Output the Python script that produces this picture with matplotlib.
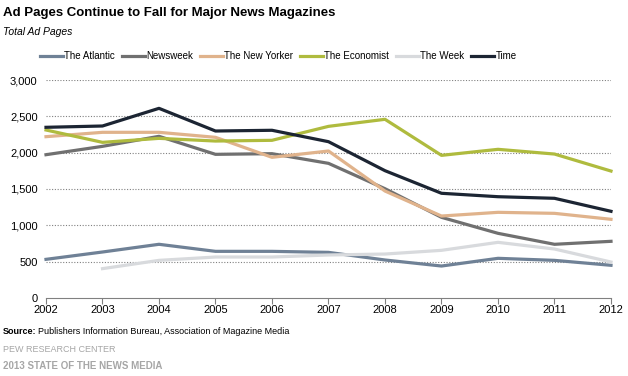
import matplotlib
matplotlib.use('Agg')
import matplotlib.pyplot as plt
from matplotlib.ticker import FuncFormatter

plt.rcParams['font.family'] = ['Liberation Sans', 'DejaVu Sans']

years = list(range(2002, 2013))
week_years = list(range(2003, 2013))

atlantic = [532, 633, 739, 642, 642, 628, 523, 440, 546, 518, 450]
newsweek = [1972, 2087, 2225, 1977, 1986, 1853, 1504, 1110, 890, 739, 780]
new_yorker = [2220, 2280, 2280, 2211, 1936, 2023, 1472, 1128, 1179, 1165, 1083]
economist = [2312, 2142, 2197, 2160, 2170, 2362, 2459, 1963, 2046, 1981, 1747]
the_week = [404, 518, 564, 564, 592, 605, 656, 766, 674, 495]
time_mag = [2349, 2367, 2610, 2298, 2308, 2151, 1752, 1441, 1394, 1372, 1193]

series = [
    ('The Atlantic', years, atlantic, '#6f8196'),
    ('Newsweek', years, newsweek, '#707070'),
    ('The New Yorker', years, new_yorker, '#e0b38c'),
    ('The Economist', years, economist, '#afbb3e'),
    ('The Week', week_years, the_week, '#d8dadd'),
    ('Time', years, time_mag, '#1c2533'),
]

W, H = 628, 376
fig = plt.figure(figsize=(W / 100, H / 100), dpi=100)
ax = fig.add_axes([46 / W, 1 - 298 / H, 565 / W, 218 / H])

for name, xs, ys, col in series:
    ax.plot(xs, ys, color=col, lw=2.3, label=name, clip_on=False)

ax.set_xlim(2002, 2012)
ax.set_ylim(0, 3000)
ax.set_xticks(years)
ax.set_yticks(range(0, 3001, 500))
ax.yaxis.set_major_formatter(FuncFormatter(lambda v, p: f'{int(v):,}'))
for v in range(500, 3001, 500):
    ax.axhline(v, color='#808080', lw=0.8, ls=(0, (1, 1.5)), zorder=0)

for s in ['left', 'top', 'right']:
    ax.spines[s].set_visible(False)
ax.spines['bottom'].set_color('#808080')
ax.tick_params(axis='x', colors='#808080', length=4, labelcolor='black', labelsize=8, pad=1)
ax.tick_params(axis='y', length=0, labelsize=8, pad=6)

fig.legend(loc='center left', bbox_to_anchor=(36 / W, 1 - 56 / H), ncol=6,
           frameon=False, fontsize=7, handlelength=2.4, handletextpad=0.1,
           columnspacing=0.7, borderaxespad=0)

fig.text(3 / W, 1 - 13 / H, 'Ad Pages Continue to Fall for Major News Magazines',
         fontsize=9.5, fontweight='bold', va='center', ha='left')
fig.text(3 / W, 1 - 32 / H, 'Total Ad Pages', fontsize=7.5, style='italic',
         va='center', ha='left')

src = fig.text(3 / W, 1 - 331 / H, 'Source:', fontsize=6.5, fontweight='bold',
               va='center', ha='left')
fig.canvas.draw()
bb = src.get_window_extent()
fig.text((bb.x1 + 2) / W, 1 - 331 / H,
         'Publishers Information Bureau, Association of Magazine Media',
         fontsize=6.5, va='center', ha='left')
fig.text(3 / W, 1 - 350 / H, 'PEW RESEARCH CENTER', fontsize=6.5, color='#a6a6a6',
         va='center', ha='left')
fig.text(3 / W, 1 - 366 / H, '2013 STATE OF THE NEWS MEDIA', fontsize=7, color='#a6a6a6',
         fontweight='bold', va='center', ha='left')

fig.savefig('out.png', dpi=100)
